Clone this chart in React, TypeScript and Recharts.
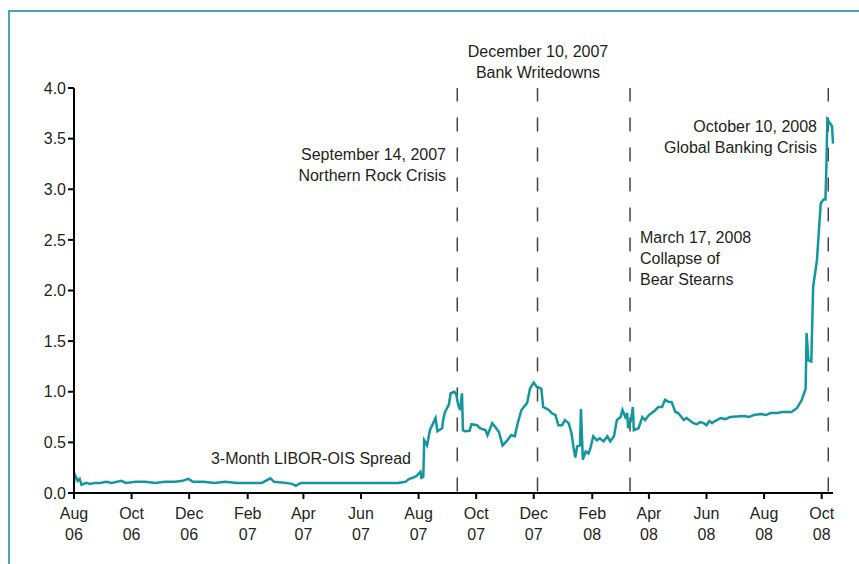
import { LineChart, Line, XAxis, YAxis, ReferenceLine } from 'recharts';

// days counted from 1 Aug 2006
const START = Date.UTC(2006, 7, 1);
const dayOf = (iso: string) => {
  const [y, m, d] = iso.split('-').map(Number);
  return Math.round((Date.UTC(y, m - 1, d) - START) / 86400000);
};

const tickDates = [
  '2006-08-01', '2006-10-01', '2006-12-01', '2007-02-01', '2007-04-01', '2007-06-01', '2007-08-01',
  '2007-10-01', '2007-12-01', '2008-02-01', '2008-04-01', '2008-06-01', '2008-08-01', '2008-10-01',
];
const tickMonths = ['Aug', 'Oct', 'Dec', 'Feb', 'Apr', 'Jun', 'Aug', 'Oct', 'Dec', 'Feb', 'Apr', 'Jun', 'Aug', 'Oct'];
const tickYears = ['06', '06', '06', '07', '07', '07', '07', '07', '07', '08', '08', '08', '08', '08'];

const yTicks = [0, 0.5, 1, 1.5, 2, 2.5, 3, 3.5, 4];

// 3-month LIBOR-OIS spread, percentage points
const spreadDays = [
  0, 1, 4, 6, 8, 13, 17, 22, 28, 34, 40, 50, 55, 65, 75, 86, 96, 107, 115, 121, 126, 137, 149, 160, 173, 187,
  199, 208, 212, 224, 231, 235, 240, 252, 266, 282, 298, 314, 330, 343, 351, 355, 359, 363, 367, 368, 370,
  371, 374, 377, 381, 383, 385, 390, 391, 393, 397, 399, 403, 405, 407, 409, 411, 412, 414, 419, 421, 427,
  430, 436, 438, 443, 446, 450, 454, 459, 463, 467, 470, 474, 480, 483, 487, 490, 495, 497, 503, 506, 510,
  513, 517, 520, 524, 527, 529, 531, 533, 536, 537, 539, 542, 545, 547, 550, 554, 557, 561, 565, 568, 572,
  575, 579, 581, 584, 586, 587, 590, 592, 593, 598, 602, 605, 609, 612, 616, 619, 623, 626, 630, 633, 637,
  640, 646, 649, 656, 660, 663, 667, 670, 673, 676, 678, 681, 685, 690, 695, 702, 710, 715, 720, 728, 733,
  738, 745, 750, 755, 760, 766, 771, 775, 776, 778, 781, 783, 787, 791, 794, 796, 797, 798, 801, 803, 804,
];
const spreadValues = [
  0.1, 0.18, 0.12, 0.14, 0.08, 0.1, 0.09, 0.1, 0.1, 0.11, 0.1, 0.12, 0.1, 0.11, 0.11, 0.1, 0.11, 0.11, 0.12, 0.14, 0.11, 0.11, 0.1, 0.11, 0.1, 0.1,
  0.1, 0.145, 0.11, 0.1, 0.09, 0.07, 0.1, 0.1, 0.1, 0.1, 0.1, 0.1, 0.1, 0.1, 0.11, 0.14, 0.15, 0.17, 0.21, 0.15, 0.16,
  0.52, 0.47, 0.62, 0.7, 0.74, 0.61, 0.64, 0.72, 0.8, 0.87, 0.985, 1.0, 0.97, 0.87, 0.82, 0.985, 0.62, 0.61, 0.615, 0.68, 0.67,
  0.64, 0.62, 0.57, 0.69, 0.655, 0.605, 0.47, 0.52, 0.57, 0.56, 0.69, 0.82, 0.89, 1.03, 1.09, 1.05, 1.03, 0.85, 0.82, 0.79, 0.77,
  0.67, 0.67, 0.72, 0.69, 0.59, 0.46, 0.35, 0.46, 0.47, 0.83, 0.33, 0.41, 0.39, 0.44, 0.56, 0.52, 0.54, 0.51, 0.56, 0.51, 0.56,
  0.72, 0.75, 0.82, 0.75, 0.79, 0.64, 0.72, 0.85, 0.62, 0.64, 0.75, 0.72, 0.77, 0.79, 0.82, 0.85, 0.85, 0.92, 0.9, 0.9, 0.8,
  0.79, 0.72, 0.74, 0.69, 0.68, 0.7, 0.69, 0.67, 0.71, 0.69, 0.705, 0.72, 0.74, 0.73, 0.75, 0.755, 0.76, 0.75, 0.77, 0.78, 0.77,
  0.79, 0.79, 0.8, 0.8, 0.8, 0.84, 0.92, 1.03, 1.58, 1.31, 1.3, 2.04, 2.3, 2.86, 2.9, 2.9, 3.22, 3.69, 3.65, 3.62, 3.45,
];

// dashed event markers (placed where they sit in the picture)
const eventDates = ['2007-09-11', '2007-12-05', '2008-03-12', '2008-10-08'];

const data = spreadDays.map((day, i) => ({ day, spread: spreadValues[i] }));
const xTicks = tickDates.map(dayOf);

const FONT = '"Liberation Sans", Arial, sans-serif';
const TEXT = '#231f20';

const MonthTick = (props: any) => {
  const { x, y, payload } = props;
  const i = xTicks.indexOf(payload.value);
  return (
    <text x={x} y={y} textAnchor="middle" fontFamily={FONT} fontSize={16} fill={TEXT}>
      <tspan x={x} dy={18}>{tickMonths[i]}</tspan>
      <tspan x={x} dy={21}>{tickYears[i]}</tspan>
    </text>
  );
};

const Note = ({ x, y, lines, anchor }: { x: number; y: number; lines: string[]; anchor: 'start' | 'middle' | 'end' }) => (
  <text x={x} y={y} textAnchor={anchor} fontFamily={FONT} fontSize={16} fill={TEXT}>
    {lines.map((l, i) => (
      <tspan key={i} x={x} dy={i === 0 ? 0 : 21}>{l}</tspan>
    ))}
  </text>
);

export default function App() {
  return (
    <div style={{ position: 'absolute', left: 0, top: 0, width: 859, height: 564, overflow: 'hidden', background: '#fff' }}>
      <div
        style={{
          position: 'absolute', left: 8, top: 10, width: 900, height: 600,
          borderTop: '2px solid #4ba6ab', borderLeft: '2px solid #4ba6ab',
        }}
      />
      <div style={{ position: 'absolute', left: 0, top: 0 }}>
        <LineChart width={859} height={564} data={data} margin={{ top: 88, right: 26, bottom: 21, left: 0 }}>
          <XAxis
            dataKey="day"
            type="number"
            domain={[0, 804]}
            ticks={xTicks}
            interval={0}
            height={50}
            tick={<MonthTick />}
            tickSize={6}
            axisLine={{ stroke: '#000', strokeWidth: 2 }}
            tickLine={{ stroke: '#000', strokeWidth: 2 }}
          />
          <YAxis
            type="number"
            domain={[0, 4]}
            ticks={yTicks}
            interval={0}
            width={74}
            tickSize={6}
            tickFormatter={(v: number) => v.toFixed(1)}
            tick={{ fontFamily: FONT, fontSize: 16, fill: TEXT }}
            axisLine={{ stroke: '#000', strokeWidth: 2 }}
            tickLine={{ stroke: '#000', strokeWidth: 2 }}
          />
          {eventDates.map((d) => (
            <ReferenceLine
              key={d}
              x={dayOf(d)}
              stroke="#444"
              strokeWidth={1.5}
              strokeDasharray="14 16"
              strokeDashoffset={-1.5}
            />
          ))}
          <Line
            type="linear"
            dataKey="spread"
            stroke="#13979f"
            strokeWidth={2.5}
            dot={false}
            isAnimationActive={false}
          />
          <Note x={538} y={57} anchor="middle" lines={['December 10, 2007', 'Bank Writedowns']} />
          <Note x={446} y={160} anchor="end" lines={['September 14, 2007', 'Northern Rock Crisis']} />
          <Note x={640} y={243} anchor="start" lines={['March 17, 2008', 'Collapse of', 'Bear Stearns']} />
          <Note x={817} y={132} anchor="end" lines={['October 10, 2008', 'Global Banking Crisis']} />
          <Note x={411} y={464} anchor="end" lines={['3-Month LIBOR-OIS Spread']} />
        </LineChart>
      </div>
    </div>
  );
}
